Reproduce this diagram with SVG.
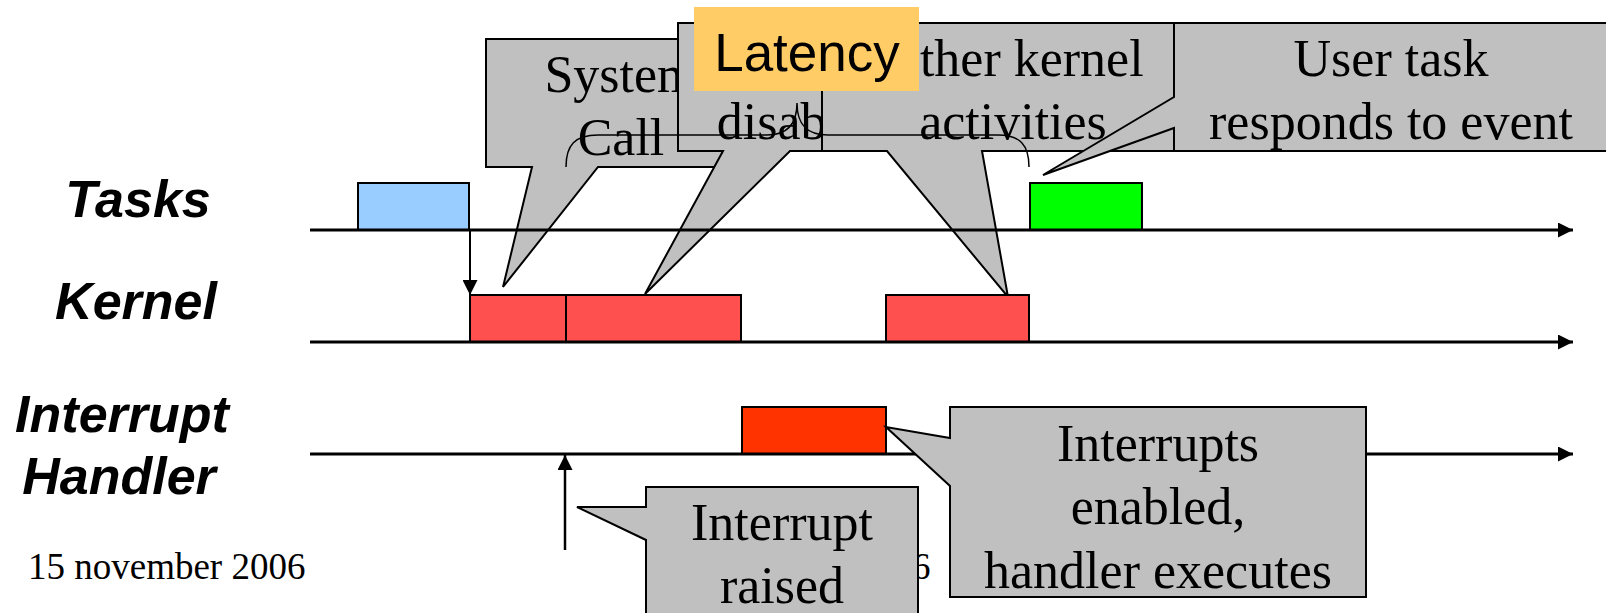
<svg xmlns="http://www.w3.org/2000/svg" width="1606" height="613" viewBox="0 0 1606 613">
  <style>
    .callout { fill: #C0C0C0; stroke: #000; stroke-width: 2; stroke-linejoin: miter; }
    .note { font-family: "Liberation Serif", "Times New Roman", serif; font-size: 52px; fill: #000; text-anchor: middle; }
    .lane { font-family: "Liberation Sans", Arial, sans-serif; font-size: 52px; font-weight: bold; font-style: italic; fill: #000; text-anchor: middle; }
    .footer { font-family: "Liberation Serif", "Times New Roman", serif; font-size: 37px; fill: #000; }
    .timeline { stroke: #000; stroke-width: 3; fill: none; }
    .act { stroke: #000; stroke-width: 2; }
  </style>
  <defs>
    <marker id="head" markerUnits="userSpaceOnUse" markerWidth="15" markerHeight="15" refX="15" refY="7.5" orient="auto">
      <path d="M0,0 L15,7.5 L0,15 Z" fill="#000"/>
    </marker>
  </defs>

  <rect width="1606" height="613" fill="#fff"/>

  <!-- lane labels -->
  <g id="lane-tasks"><text class="lane" x="138" y="217">Tasks</text></g>
  <g id="lane-kernel"><text class="lane" x="136" y="319">Kernel</text></g>
  <g id="lane-interrupt"><text class="lane" x="122" y="432">Interrupt</text><text class="lane" x="119" y="494">Handler</text></g>

  <!-- upper callouts, back to front -->
  <g id="callout-syscall">
    <path class="callout" d="M486,39 H756 V167 H598 L503,287 L532,167 H486 Z"/>
    <text class="note" x="621" y="92">System</text>
    <text class="note" x="621" y="155">Call</text>
  </g>
  <g id="callout-disabled">
    <path class="callout" d="M678,23 H929 V151 H790 L645,294 L723,151 H678 Z"/>
    <text class="note" x="803.5" y="139">disabled</text>
  </g>
  <g id="callout-other">
    <path class="callout" d="M822,23 H1204 V151 H982 L1008,297 L887,151 H822 Z"/>
    <text class="note" x="1013" y="76">Other kernel</text>
    <text class="note" x="1013" y="139">activities</text>
  </g>
  <g id="callout-user">
    <path class="callout" d="M1174,23 H1612 V151 H1174 V128 L1043,175 L1174,97 Z"/>
    <text class="note" x="1391" y="76">User task</text>
    <text class="note" x="1391" y="139">responds to event</text>
  </g>

  <!-- activity boxes -->
  <g id="task-blue"><rect class="act" x="358" y="183" width="111" height="47" fill="#99CCFF"/></g>
  <g id="task-green"><rect class="act" x="1030" y="183" width="112" height="47" fill="#00FF00"/></g>
  <g id="kernel-syscall"><rect class="act" x="470" y="295" width="96" height="47" fill="#FF5050"/></g>
  <g id="kernel-disabled"><rect class="act" x="566" y="295" width="175" height="47" fill="#FF5050"/></g>
  <g id="kernel-other"><rect class="act" x="886" y="295" width="143" height="47" fill="#FF5050"/></g>
  <g id="irq-handler"><rect class="act" x="742" y="407" width="144" height="47" fill="#FF3300"/></g>

  <!-- connectors: timelines, transitions, latency brace -->
  <g id="connectors">
    <line class="timeline" x1="310" y1="230" x2="1573" y2="230" marker-end="url(#head)"/>
    <line class="timeline" x1="310" y1="342" x2="1573" y2="342" marker-end="url(#head)"/>
    <line class="timeline" x1="310" y1="454" x2="1573" y2="454" marker-end="url(#head)"/>
    <line x1="470" y1="230" x2="470" y2="295" stroke="#000" stroke-width="2" marker-end="url(#head)"/>
    <line x1="565" y1="550" x2="565" y2="455" stroke="#000" stroke-width="2.5" marker-end="url(#head)"/>
    <path d="M566,167 C566,145 575,135 598,135 L767,135 C787,135 797,125 797,103 C797,125 807,135 828,135 L998,135 C1020,135 1029,145 1029,167" fill="none" stroke="#000" stroke-width="1.5"/>
  </g>

  <!-- latency label -->
  <g id="latency">
    <rect x="694" y="7" width="225" height="84" fill="#FFCC66"/>
    <text x="807" y="71" font-family="Liberation Sans, Arial, sans-serif" font-size="53" text-anchor="middle" fill="#000">Latency</text>
  </g>

  <!-- slide footer -->
  <g id="footer">
    <text class="footer" x="28" y="579">15 november 2006</text>
    <text class="footer" x="912" y="579">6</text>
  </g>

  <!-- lower callouts -->
  <g id="callout-raised">
    <path class="callout" d="M646,487 H918 V620 H646 V540 L577,507 L646,507 Z"/>
    <text class="note" x="782" y="540">Interrupt</text>
    <text class="note" x="782" y="603">raised</text>
  </g>
  <g id="callout-enabled">
    <path class="callout" d="M950,407 H1366 V597 H950 V486 L886,427 L950,438 Z"/>
    <text class="note" x="1158" y="461">Interrupts</text>
    <text class="note" x="1158" y="524">enabled,</text>
    <text class="note" x="1158" y="588">handler executes</text>
  </g>
</svg>
